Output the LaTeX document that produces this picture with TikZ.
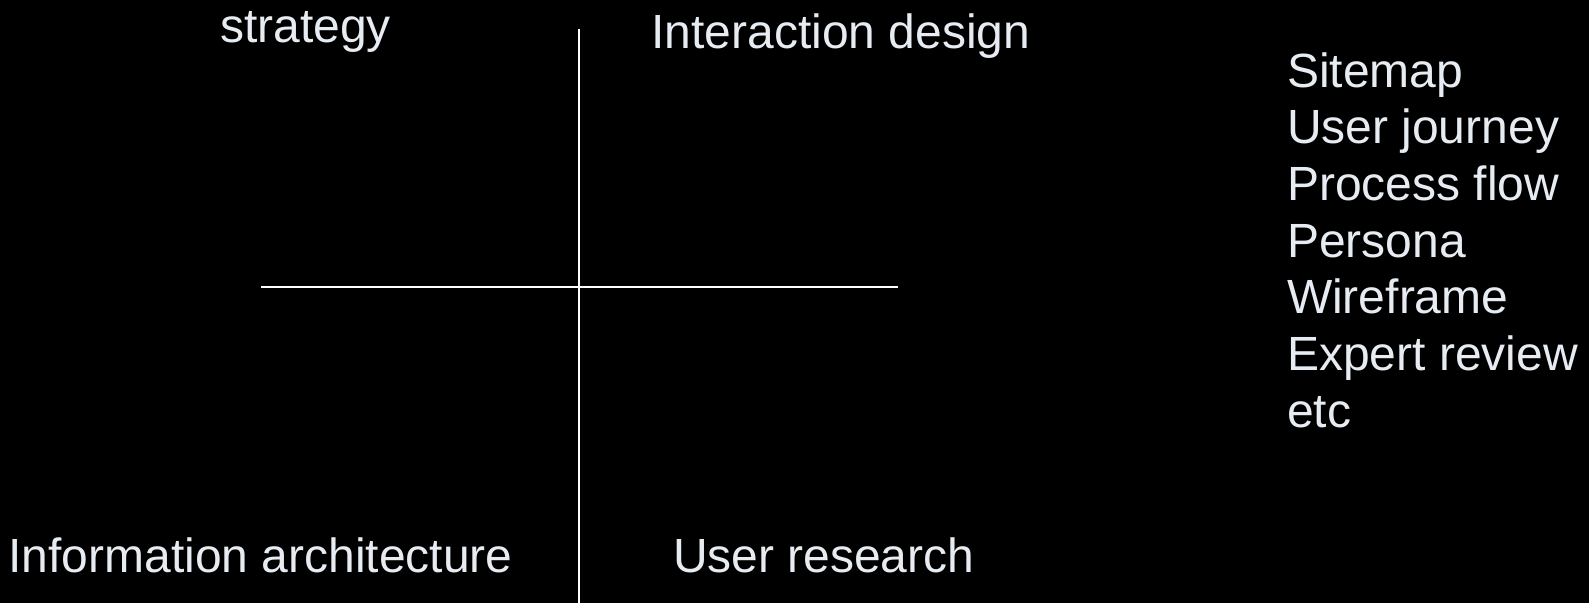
\documentclass[tikz,border=0pt]{standalone}
\usepackage{fontspec}
\setmainfont{Liberation Sans}
\definecolor{txtc}{RGB}{230,236,242}
\tikzset{
  lbl/.style={anchor=base west, inner sep=0pt, outer sep=0pt, text=txtc, font=\fontsize{48}{56}\selectfont},
  axis/.style={draw=white, line width=2.2pt}
}
\begin{document}
\begin{tikzpicture}[x=1pt,y=-1pt]
  \fill[black] (0,0) rectangle (1589,603);
  \useasboundingbox (0,0) rectangle (1589,603);
  % axes
  \coordinate (vtop) at (579,29);
  \coordinate (vbot) at (579,603);
  \coordinate (hl) at (261,287);
  \coordinate (hr) at (898,287);
  \draw[axis] (vtop) -- (vbot);
  \draw[axis] (hl) -- (hr);
  % quadrant labels
  \node[lbl] (strategy) at (220,42) {strategy};
  \node[lbl] (interaction) at (651.5,48) {Interaction design};
  \node[lbl] (infoarch) at (8.5,572) {Information architecture};
  \node[lbl] (research) at (673,572) {User research};
  % list
  \node[lbl] (l1) at (1287,87) {Sitemap};
  \node[lbl] (l2) at (1287,143.7) {User journey};
  \node[lbl] (l3) at (1287,200.3) {Process flow};
  \node[lbl] (l4) at (1287,257) {Persona};
  \node[lbl] (l5) at (1287,313.7) {Wireframe};
  \node[lbl] (l6) at (1287,370.3) {Expert review};
  \node[lbl] (l7) at (1287,427) {etc};
\end{tikzpicture}
\end{document}
